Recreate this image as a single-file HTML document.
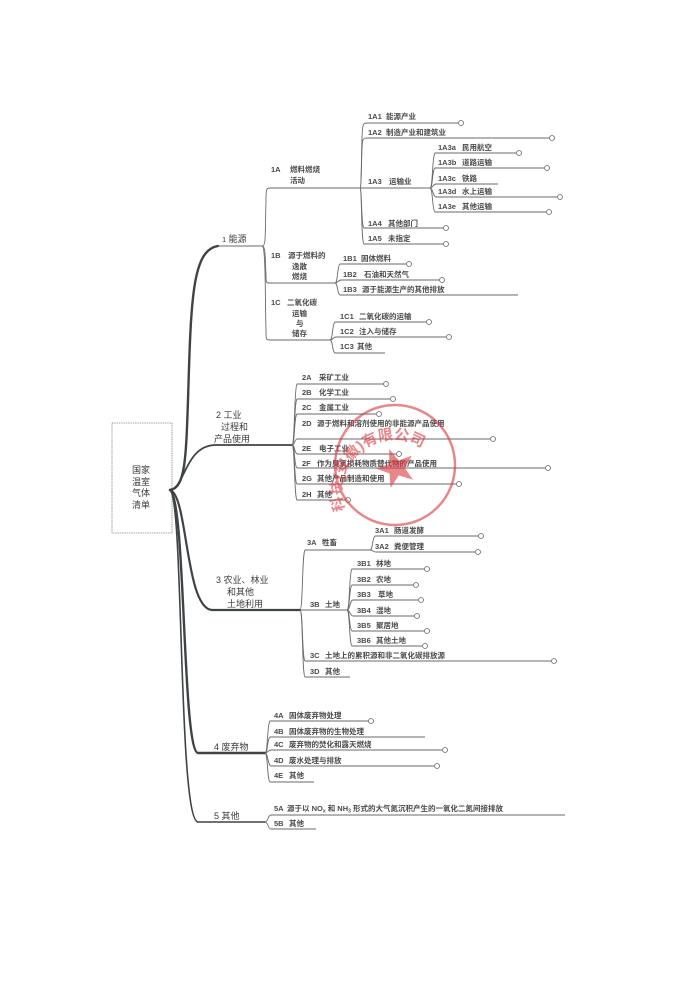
<!DOCTYPE html>
<html><head><meta charset="utf-8"><style>
html,body{margin:0;padding:0;background:#fff}
svg{display:block}
text{font-family:"Liberation Sans","Noto Sans CJK SC",sans-serif;font-size:7.5px;fill:#4a4a4a;font-weight:bold}
.t{font-size:9px;fill:#3a3a3a;font-weight:normal}
.l{stroke:#6a6a6a;stroke-width:0.9;fill:none}
.c{stroke:#666;stroke-width:0.8;fill:#fff}
.tr{stroke:#3e4346;fill:none;stroke-linecap:round}
</style></head><body>
<svg width="700" height="989" viewBox="0 0 700 989">
<rect width="700" height="989" fill="#fff"/>
<rect x="112" y="423" width="60" height="110" fill="#fff" stroke="#888" stroke-width="0.8" stroke-dasharray="1.5,0.8"/>
<text class="t" x="132" y="473">国家</text>
<text class="t" x="132" y="485">温室</text>
<text class="t" x="132" y="496">气体</text>
<text class="t" x="132" y="508">清单</text>
<path class="tr" stroke-width="2.4" d="M170 490 C185 488 186 460 188 400 C191 300 192 250 218 246"/>
<path class="tr" stroke-width="1.8" d="M170 490 C185 488 185 446 215 445 L292 445"/>
<path class="tr" stroke-width="2.2" d="M170 490 C188 495 185 608 212 610 L300 610"/>
<path class="tr" stroke-width="2.4" d="M170 490 C186 500 182 750 198 753 L265 753"/>
<path class="tr" stroke-width="1.6" d="M170 490 C184 500 178 820 198 822 L265 822"/>
<path class="l" d="M218 246 L262 246"/>
<text class="t" x="222" y="242"><tspan font-size="7.5">1</tspan> 能源</text>
<text class="t" x="216" y="418">2 工业</text><text class="t" x="221" y="430">过程和</text><text class="t" x="214" y="442">产品使用</text>
<text class="t" x="216" y="583">3 农业、林业</text><text class="t" x="227" y="595">和其他</text><text class="t" x="227" y="607">土地利用</text>
<text class="t" x="214" y="750">4  废弃物</text>
<text class="t" x="214" y="819">5  其他</text>

<path class="l" d="M262 246 C266 246 265 240 266 200 C266 190 266 188 270 188 L360 188"/>
<path class="l" d="M262 246 C266 246 265 260 266 275 C266 283 266 283 270 283 L335 283"/>
<path class="l" d="M262 246 C266 246 265 300 266 330 C266 340 266 340 270 340 L330 340"/>
<text x="271" y="172">1A</text><text x="290" y="172">燃料燃烧</text><text x="290" y="183">活动</text>
<text x="271" y="258">1B</text><text x="288" y="258">源于燃料的</text><text x="292" y="269">逸散</text><text x="292" y="279">燃烧</text>
<text x="271" y="305">1C</text><text x="287" y="305">二氧化碳</text><text x="292" y="316">运输</text><text x="296" y="326">与</text><text x="292" y="336">储存</text>
<path class="l" d="M360 188 C362 188 361 130 363 126 C364 123 365 123 368 123 L458 123"/><circle class="c" cx="461" cy="123" r="2.5"/>
<path class="l" d="M360 188 C362 188 361 142 363 140 C364 138 365 138 368 138 L549 138"/><circle class="c" cx="552" cy="138" r="2.5"/>
<path class="l" d="M360 188 L430 188"/>
<path class="l" d="M360 188 C362 188 361 226 364 228 L443 228"/><circle class="c" cx="446" cy="228" r="2.5"/>
<path class="l" d="M360 188 C362 188 361 242 364 244 L443 244"/><circle class="c" cx="446" cy="244" r="2.5"/>
<text x="368" y="119">1A1</text><text x="386" y="119">能源产业</text>
<text x="368" y="135">1A2</text><text x="386" y="135">制造产业和建筑业</text>
<text x="368" y="184">1A3</text><text x="389" y="184">运输业</text>
<text x="368" y="226">1A4</text><text x="388" y="226">其他部门</text>
<text x="368" y="241">1A5</text><text x="388" y="241">未指定</text>
<path class="l" d="M430 188 C433 188 432 156 435 153 L516 153"/><circle class="c" cx="519" cy="153" r="2.5"/>
<path class="l" d="M430 188 C433 188 432 170 435 168 L544 168"/><circle class="c" cx="547" cy="168" r="2.5"/>
<path class="l" d="M430 188 C433 188 433 184 436 184 L498 184"/>
<path class="l" d="M430 188 C433 188 433 197 436 197 L557 197"/><circle class="c" cx="560" cy="197" r="2.5"/>
<path class="l" d="M430 188 C433 188 432 210 435 212 L546 212"/><circle class="c" cx="549" cy="212" r="2.5"/>
<text x="438" y="150">1A3a</text><text x="462" y="150">民用航空</text>
<text x="438" y="165">1A3b</text><text x="462" y="165">道路运输</text>
<text x="438" y="181">1A3c</text><text x="462" y="181">铁路</text>
<text x="438" y="194">1A3d</text><text x="462" y="194">水上运输</text>
<text x="438" y="209">1A3e</text><text x="462" y="209">其他运输</text>
<path class="l" d="M335 283 C338 283 337 266 340 264 L406 264"/><circle class="c" cx="409" cy="264" r="2.5"/>
<path class="l" d="M335 283 C338 283 338 280 341 280 L439 280"/><circle class="c" cx="442" cy="280" r="2.5"/>
<path class="l" d="M335 283 C338 283 337 294 340 295 L518 295"/>
<text x="343" y="261">1B1</text><text x="361" y="261">固体燃料</text>
<text x="343" y="277">1B2</text><text x="364" y="277">石油和天然气</text>
<text x="343" y="292">1B3</text><text x="362" y="292">源于能源生产的其他排放</text>
<path class="l" d="M330 340 C333 340 332 324 335 322 L426 322"/><circle class="c" cx="429" cy="322" r="2.5"/>
<path class="l" d="M330 340 C333 340 333 337 336 337 L446 337"/><circle class="c" cx="449" cy="337" r="2.5"/>
<path class="l" d="M330 340 C333 340 332 352 335 353 L385 353"/>
<text x="340" y="319">1C1</text><text x="359" y="319">二氧化碳的运输</text>
<text x="340" y="334">1C2</text><text x="359" y="334">注入与储存</text>
<text x="340" y="349">1C3</text><text x="357" y="349">其他</text>

<path class="l" d="M292 445 C295 445 294 388 297 384 L383 384"/><circle class="c" cx="386" cy="384" r="2.5"/>
<path class="l" d="M292 445 C295 445 294 402 297 399 L390 399"/><circle class="c" cx="393" cy="399" r="2.5"/>
<path class="l" d="M292 445 C295 445 294 416 297 414 L376 414"/><circle class="c" cx="379" cy="414" r="2.5"/>
<path class="l" d="M292 445 C295 445 294 440 297 439 L490 439"/><circle class="c" cx="493" cy="439" r="2.5"/>
<path class="l" d="M292 445 C295 445 294 452 297 454 L396 454"/><circle class="c" cx="399" cy="454" r="2.5"/>
<path class="l" d="M292 445 C295 445 294 466 297 468 L545 468"/><circle class="c" cx="548" cy="468" r="2.5"/>
<path class="l" d="M292 445 C295 445 294 482 297 484 L456 484"/><circle class="c" cx="459" cy="484" r="2.5"/>
<path class="l" d="M292 445 C295 445 294 497 297 500 L345 500"/><circle class="c" cx="348" cy="500" r="2.5"/>
<text x="302" y="380">2A</text><text x="319" y="380">采矿工业</text>
<text x="302" y="395">2B</text><text x="319" y="395">化学工业</text>
<text x="302" y="410">2C</text><text x="319" y="410">金属工业</text>
<text x="302" y="426">2D</text><text x="317" y="426">源于燃料和溶剂使用的非能源产品使用</text>
<text x="302" y="451">2E</text><text x="319" y="451">电子工业</text>
<text x="302" y="466">2F</text><text x="317" y="466">作为臭氧损耗物质替代物的产品使用</text>
<text x="302" y="481">2G</text><text x="317" y="481">其他产品制造和使用</text>
<text x="302" y="497">2H</text><text x="317" y="497">其他</text>

<path class="l" d="M300 610 C303 610 302 553 305 550 L370 550"/>
<path class="l" d="M300 610 L347 610"/>
<path class="l" d="M300 610 C303 610 302 659 305 661 L551 661"/><circle class="c" cx="554" cy="661" r="2.5"/>
<path class="l" d="M300 610 C303 610 302 675 305 677 L350 677"/>
<text x="307" y="545">3A</text><text x="322" y="545">牲畜</text>
<text x="310" y="607">3B</text><text x="325" y="607">土地</text>
<text x="310" y="658">3C</text><text x="325" y="658">土地上的累积源和非二氧化碳排放源</text>
<text x="310" y="674">3D</text><text x="325" y="674">其他</text>
<path class="l" d="M370 550 C373 550 372 538 375 536 L478 536"/><circle class="c" cx="481" cy="536" r="2.5"/>
<path class="l" d="M370 550 C373 550 373 552 376 552 L475 552"/><circle class="c" cx="478" cy="552" r="2.5"/>
<text x="375" y="533">3A1</text><text x="394" y="533">肠道发酵</text>
<text x="375" y="549">3A2</text><text x="394" y="549">粪便管理</text>
<path class="l" d="M347 610 C350 610 349 572 352 569 L424 569"/><circle class="c" cx="427" cy="569" r="2.5"/>
<path class="l" d="M347 610 C350 610 349 587 352 585 L413 585"/><circle class="c" cx="416" cy="585" r="2.5"/>
<path class="l" d="M347 610 C350 610 350 600 353 600 L418 600"/><circle class="c" cx="421" cy="600" r="2.5"/>
<path class="l" d="M347 610 C350 610 350 616 353 616 L414 616"/><circle class="c" cx="417" cy="616" r="2.5"/>
<path class="l" d="M347 610 C350 610 349 629 352 631 L424 631"/><circle class="c" cx="427" cy="631" r="2.5"/>
<path class="l" d="M347 610 C350 610 349 644 352 646 L422 646"/><circle class="c" cx="425" cy="646" r="2.5"/>
<text x="357" y="566">3B1</text><text x="376" y="566">林地</text>
<text x="357" y="582">3B2</text><text x="376" y="582">农地</text>
<text x="357" y="597">3B3</text><text x="378" y="597">草地</text>
<text x="357" y="613">3B4</text><text x="376" y="613">湿地</text>
<text x="357" y="628">3B5</text><text x="376" y="628">聚居地</text>
<text x="357" y="643">3B6</text><text x="376" y="643">其他土地</text>

<path class="l" d="M265 753 C268 753 267 724 270 721 L368 721"/><circle class="c" cx="371" cy="721" r="2.5"/>
<path class="l" d="M265 753 C268 753 267 739 270 737 L425 737"/>
<path class="l" d="M265 753 C268 753 268 750 271 750 L442 750"/><circle class="c" cx="445" cy="750" r="2.5"/>
<path class="l" d="M265 753 C268 753 268 766 271 766 L434 766"/><circle class="c" cx="437" cy="766" r="2.5"/>
<path class="l" d="M265 753 C268 753 267 780 270 782 L314 782"/>
<text x="274" y="718">4A</text><text x="289" y="718">固体废弃物处理</text>
<text x="274" y="734">4B</text><text x="289" y="734">固体废弃物的生物处理</text>
<text x="274" y="747">4C</text><text x="289" y="747">废弃物的焚化和露天燃烧</text>
<text x="274" y="763">4D</text><text x="289" y="763">废水处理与排放</text>
<text x="274" y="778">4E</text><text x="289" y="778">其他</text>
<path class="l" d="M265 822 C268 822 268 815 271 815 L565 815"/>
<path class="l" d="M265 822 C268 822 268 829 271 829 L316 829"/>
<text x="274" y="811">5A</text><text x="287" y="811">源于以 NO<tspan font-size="5" dy="1.5">x</tspan><tspan dy="-1.5"> 和 NH</tspan><tspan font-size="5" dy="1.5">3</tspan><tspan dy="-1.5"> 形式的大气氮沉积产生的一氧化二氮间接排放</tspan></text>
<text x="274" y="826">5B</text><text x="289" y="826">其他</text>

<defs><path id="arc" d="M345 510 A52 52 0 1 1 445 500"/></defs>
<g opacity="0.6">
<circle cx="395" cy="465" r="60" fill="none" stroke="#d9363e" stroke-width="2.5"/>
<polygon points="395,448 400,462 414,462 403,471 407,485 395,476 383,485 387,471 376,462 390,462" fill="#d9363e" transform="rotate(-20 395 465)"/>
<text style="fill:#d9363e;font-size:15px;font-weight:bold"><textPath href="#arc">科技(安徽)有限公司</textPath></text>
</g>
</svg>
</body></html>
